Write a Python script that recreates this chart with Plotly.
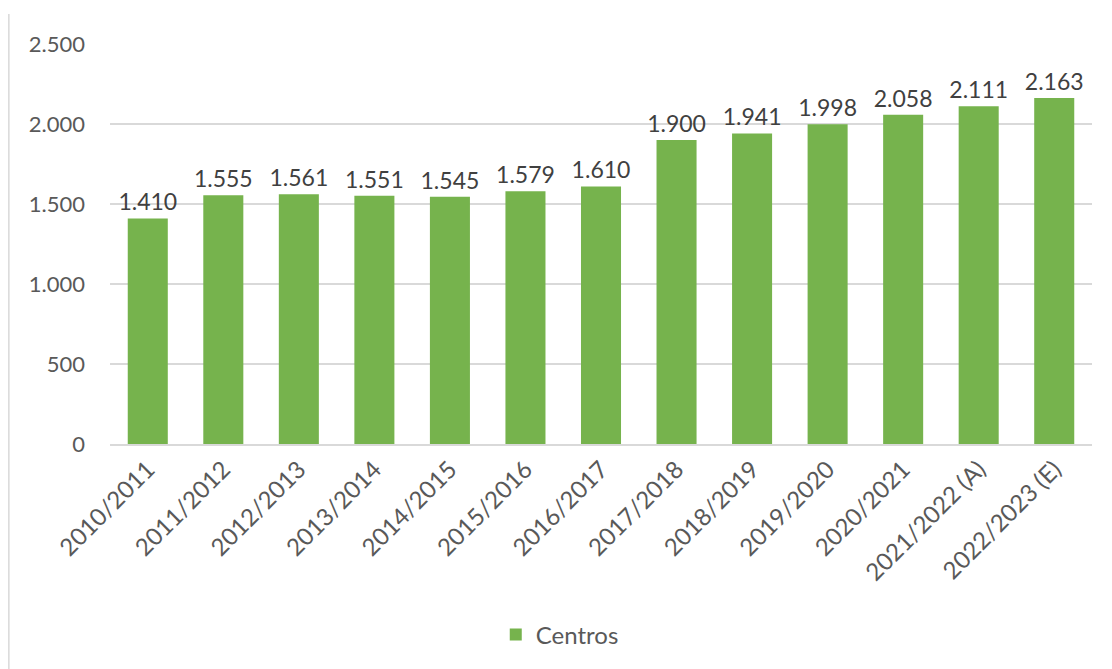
import plotly.graph_objects as go

categories = ["2010/2011", "2011/2012", "2012/2013", "2013/2014", "2014/2015",
              "2015/2016", "2016/2017", "2017/2018", "2018/2019", "2019/2020",
              "2020/2021", "2021/2022 (A)", "2022/2023 (E)"]
centros = [1410, 1555, 1561, 1551, 1545, 1579, 1610, 1900, 1941, 1998, 2058, 2111, 2163]
y_ticks = [0, 500, 1000, 1500, 2000, 2500]
y_tick_labels = ["0", "500", "1.000", "1.500", "2.000", "2.500"]

def fmt(v):
    return f"{v:,}".replace(",", ".")

FONT = "Lato, 'Open Sans', sans-serif"

fig = go.Figure()
fig.add_trace(go.Bar(
    x=categories, y=centros, name="Centros",
    marker=dict(color="#76B34D", line=dict(width=0)),
    text=[fmt(v) for v in centros], textposition="outside",
    constraintext="none",
    textfont=dict(size=23, color="#404040", family=FONT),
    cliponaxis=False,
))

fig.update_layout(
    width=1112, height=669,
    margin=dict(l=102, r=28, t=36, b=233),
    paper_bgcolor="white", plot_bgcolor="white",
    font=dict(family=FONT, color="#595959", size=21),
    bargap=0.47,
    showlegend=True,
    legend=dict(orientation="h", x=0.458, xanchor="center", y=-0.4775, yanchor="middle",
                font=dict(size=24, color="#595959")),
    xaxis=dict(tickangle=-45, showline=True, linecolor="#D9D9D9", linewidth=1.5,
               tickfont=dict(size=24, color="#595959"), ticks="", automargin=False),
    yaxis=dict(range=[0, 2500], tickvals=y_ticks, ticktext=y_tick_labels,
               showgrid=True, gridcolor="#D9D9D9", gridwidth=1.5,
               zeroline=False, ticks="", ticklabelstandoff=24, automargin=False,
               tickfont=dict(size=22, color="#595959")),
    shapes=[dict(type="line", xref="paper", yref="paper", x0=-0.103, x1=-0.103,
                 y0=1.075, y1=-0.6, line=dict(color="#D9D9D9", width=1.5))],
)

fig.write_html("out.html")
